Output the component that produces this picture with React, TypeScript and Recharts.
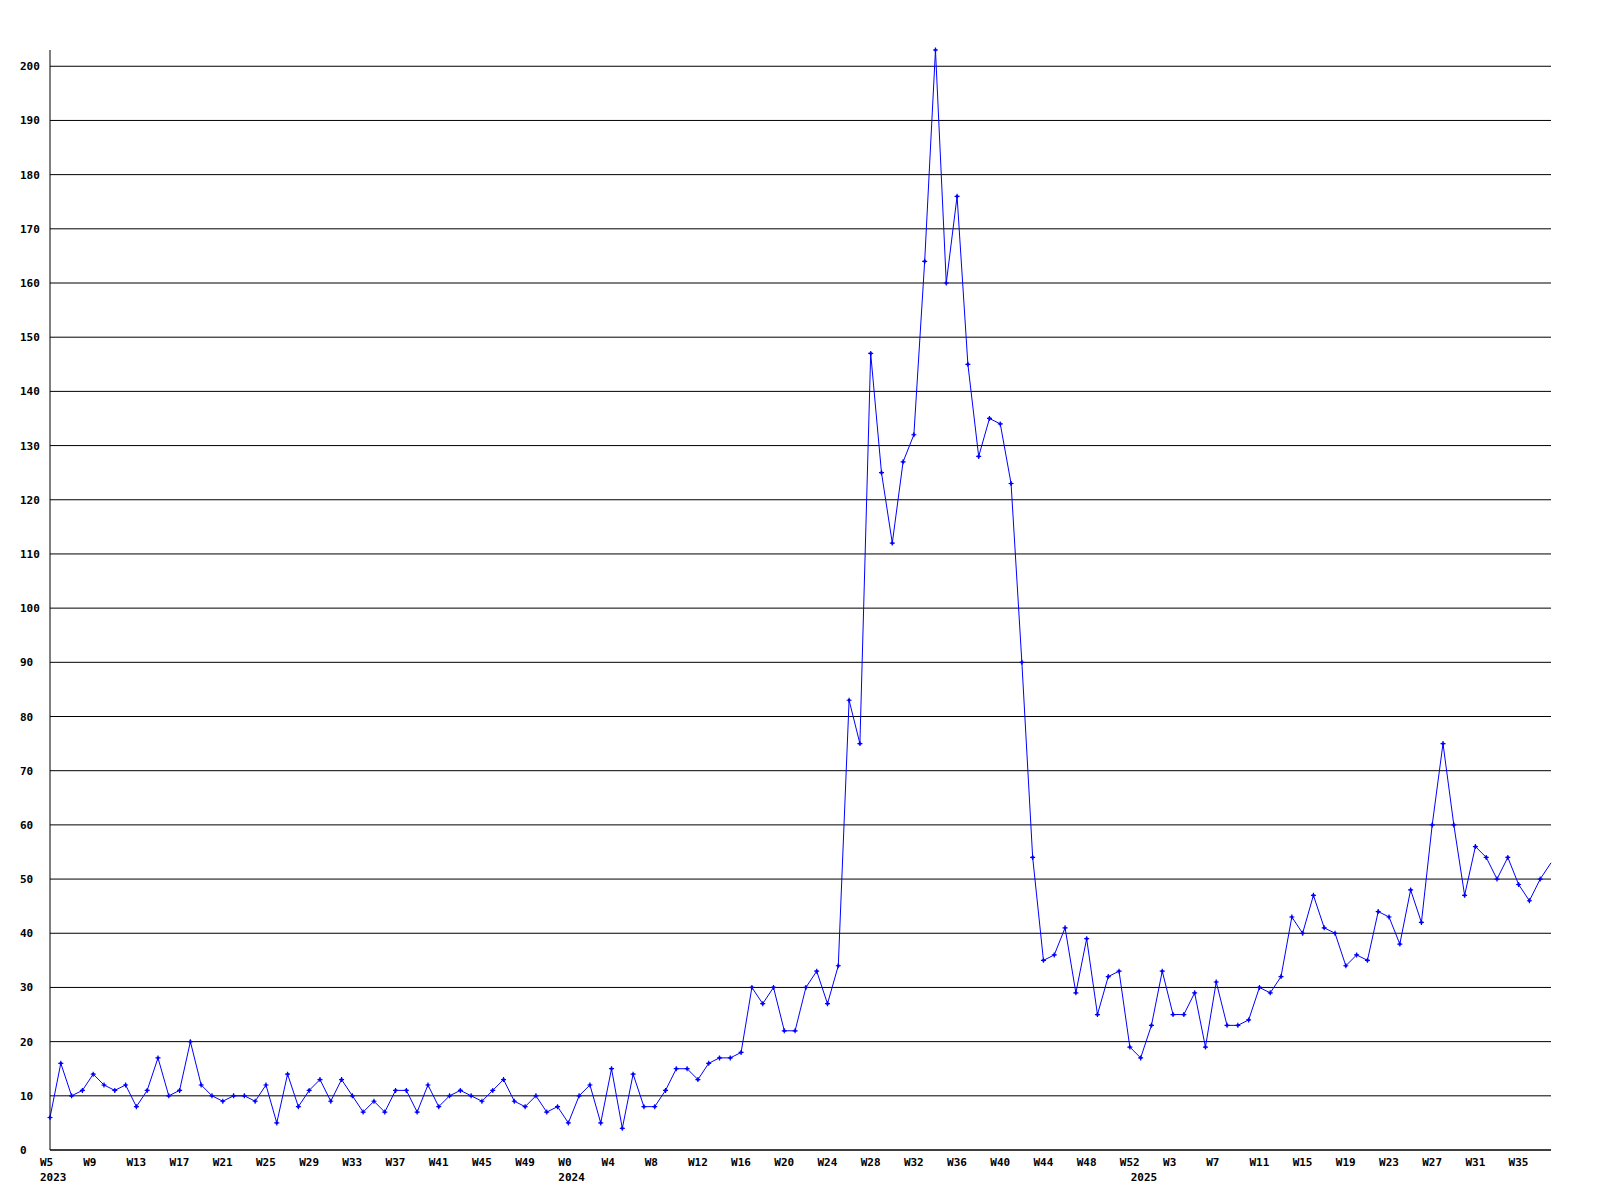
import React from 'react';
import { LineChart, Line, XAxis, YAxis, CartesianGrid } from 'recharts';

// Weekly values from 2023 W5 onward
const values2023: number[] = [6, 16, 10, 11, 14, 12, 11, 12, 8, 11, 17, 10, 11, 20, 12, 10, 9, 10, 10, 9, 12, 5, 14, 8, 11, 13, 9, 13, 10, 7, 9, 7, 11, 11, 7, 12, 8, 10, 11, 10, 9, 11, 13, 9, 8, 10, 7, 8];
const values2024: number[] = [5, 10, 12, 5, 15, 4, 14, 8, 8, 11, 15, 15, 13, 16, 17, 17, 18, 30, 27, 30, 22, 22, 30, 33, 27, 34, 83, 75, 147, 125, 112, 127, 132, 164, 203, 160, 176, 145, 128, 135, 134, 123, 90, 54, 35, 36, 41, 29, 39, 25, 32, 33, 19];
const values2025: number[] = [17, 23, 33, 25, 25, 29, 19, 31, 23, 23, 24, 30, 29, 32, 43, 40, 47, 41, 40, 34, 36, 35, 44, 43, 38, 48, 42, 60, 75, 60, 47, 56, 54, 50, 54, 49, 46, 50, 53];

const weekTickLabels: string[] = ['W5', 'W9', 'W13', 'W17', 'W21', 'W25', 'W29', 'W33', 'W37', 'W41', 'W45', 'W49', 'W0', 'W4', 'W8', 'W12', 'W16', 'W20', 'W24', 'W28', 'W32', 'W36', 'W40', 'W44', 'W48', 'W52', 'W3', 'W7', 'W11', 'W15', 'W19', 'W23', 'W27', 'W31', 'W35'];
const weekTickIndices: number[] = [0, 4, 8, 12, 16, 20, 24, 28, 32, 36, 40, 44, 48, 52, 56, 60, 64, 68, 72, 76, 80, 84, 88, 92, 96, 100, 104, 108, 112, 116, 120, 124, 128, 132, 136];
const yearLabels: string[] = ['2023', '2024', '2025'];
const yearIndices: number[] = [0, 48, 101];
const yTicks: number[] = [0, 10, 20, 30, 40, 50, 60, 70, 80, 90, 100, 110, 120, 130, 140, 150, 160, 170, 180, 190, 200];

const allValues = [...values2023, ...values2024, ...values2025];
const data = allValues.map((v, i) => ({ i, v }));

const FONT = '"DejaVu Sans Mono", "Liberation Mono", monospace';
const BLUE = '#0000ff';

const XTick = (props: any) => {
  const { x, y, payload } = props;
  const idx = payload.value as number;
  const wk = weekTickIndices.indexOf(idx);
  const yr = yearIndices.indexOf(idx);
  return (
    <g>
      {wk >= 0 && (
        <text x={x - 10} y={y + 16} textAnchor="start" fontFamily={FONT} fontWeight="bold" fontSize={11} fill="#000">
          {weekTickLabels[wk]}
        </text>
      )}
      {yr >= 0 && (
        <text x={x - 10} y={y + 31} textAnchor="start" fontFamily={FONT} fontWeight="bold" fontSize={11} fill="#000">
          {yearLabels[yr]}
        </text>
      )}
    </g>
  );
};

const YTick = (props: any) => {
  const { y, payload } = props;
  return (
    <text x={20} y={y + 4} textAnchor="start" fontFamily={FONT} fontWeight="bold" fontSize={11} fill="#000">
      {payload.value}
    </text>
  );
};

const Dot = (props: any) => {
  const { cx, cy, index } = props;
  if (cx == null || cy == null || index === allValues.length - 1) return <g key={index} />;
  return (
    <g key={index}>
      <path d={`M${cx - 2.5},${cy}H${cx + 2.5}M${cx},${cy - 2.5}V${cy + 2.5}`} stroke={BLUE} strokeWidth={1.2} />
      <rect x={cx - 1.2} y={cy - 1.2} width={2.4} height={2.4} fill={BLUE} />
    </g>
  );
};

export default function App() {
  const ticks = [...weekTickIndices, ...yearIndices.filter((i) => !weekTickIndices.includes(i))].sort((a, b) => a - b);
  return (
    <div style={{ position: 'absolute', left: 0, top: 0, width: 1600, height: 1200, background: '#fff' }}>
      <LineChart width={1600} height={1200} data={data} margin={{ top: 50, right: 49, left: 0, bottom: 0 }}>
        <CartesianGrid
          vertical={false}
          horizontal={true}
          horizontalValues={yTicks}
          stroke="#000"
          strokeWidth={1}
        />
        <XAxis
          dataKey="i"
          type="number"
          domain={[0, allValues.length - 1]}
          ticks={ticks}
          interval={0}
          height={50}
          tickLine={false}
          tickSize={0}
          tickMargin={0}
          axisLine={{ stroke: '#000', strokeWidth: 1 }}
          tick={<XTick />}
        />
        <YAxis
          type="number"
          domain={[0, 203]}
          ticks={yTicks}
          interval={0}
          width={50}
          tickLine={false}
          tickSize={0}
          axisLine={{ stroke: '#000', strokeWidth: 1 }}
          tick={<YTick />}
        />
        <Line
          type="linear"
          dataKey="v"
          stroke={BLUE}
          strokeWidth={1}
          dot={<Dot />}
          activeDot={false}
          isAnimationActive={false}
        />
      </LineChart>
    </div>
  );
}
